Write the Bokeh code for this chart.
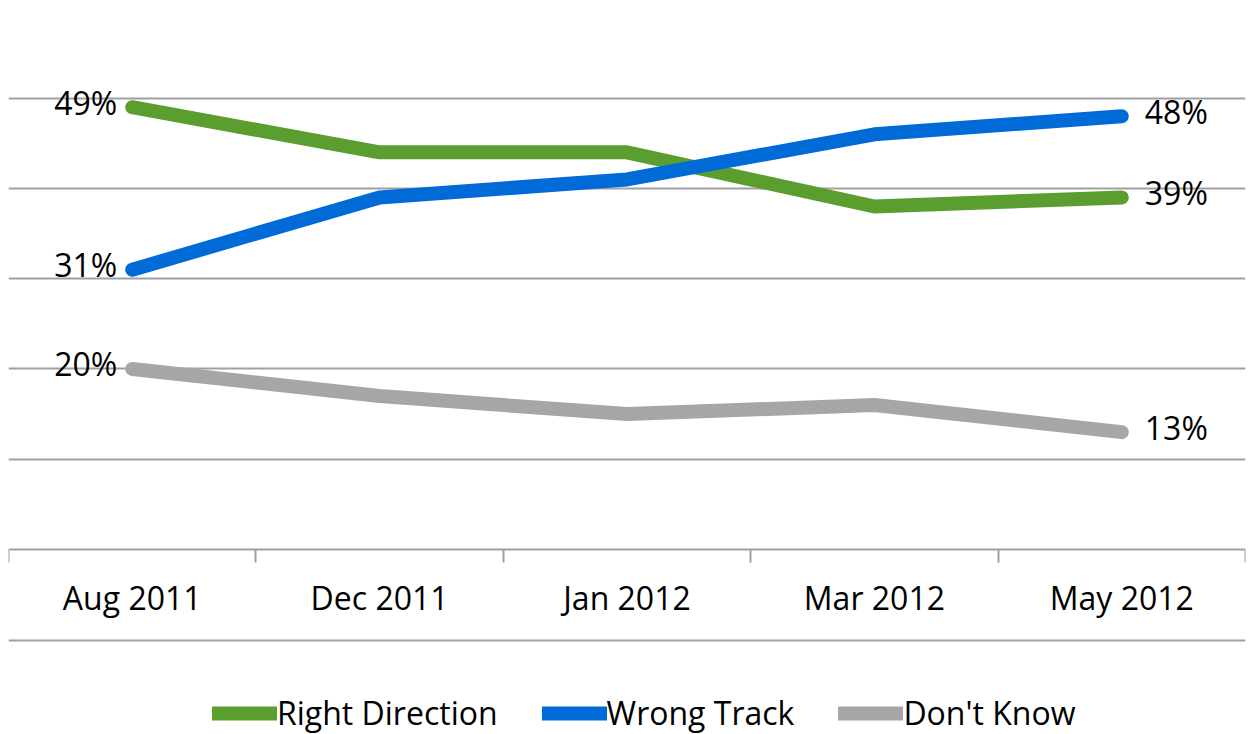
from bokeh.plotting import figure
from bokeh.models import Range1d, FixedTicker, Span, Legend, LegendItem
from bokeh.core.properties import value
from bokeh.embed import file_html
from bokeh.resources import INLINE

categories = ["Aug 2011", "Dec 2011", "Jan 2012", "Mar 2012", "May 2012"]
right_direction = [49, 44, 44, 38, 39]
wrong_track = [31, 39, 41, 46, 48]
dont_know = [20, 17, 15, 16, 13]
series_names = ["Right Direction", "Wrong Track", "Don't Know"]
series_colors = ["#5a9e2f", "#006bd6", "#a6a6a6"]
grid_ticks = [10, 20, 30, 40, 50]

FONT = "Open Sans"
GRAY = "#a0a0a0"

xs = list(range(len(categories)))
p = figure(width=1249, height=734, output_backend="svg", toolbar_location=None,
           x_range=Range1d(-0.5, len(categories) - 0.5), y_range=Range1d(-20.5, 59.94),
           min_border=0, min_border_left=8, min_border_right=4,
           min_border_top=8, min_border_bottom=0)
p.outline_line_color = None
p.background_fill_color = "white"
p.border_fill_color = "white"

p.xgrid.visible = False
p.ygrid.ticker = FixedTicker(ticks=grid_ticks)
p.ygrid.grid_line_color = GRAY
p.ygrid.grid_line_width = 2
p.yaxis.visible = False

ax = p.xaxis[0]
ax.fixed_location = 0
ax.ticker = FixedTicker(ticks=xs, minor_ticks=[i - 0.5 for i in range(len(categories) + 1)])
ax.major_label_overrides = {i: c for i, c in enumerate(categories)}
ax.axis_line_color = GRAY
ax.axis_line_width = 2
ax.major_tick_line_color = None
ax.major_tick_out = 0
ax.major_tick_in = 0
ax.minor_tick_line_color = GRAY
ax.minor_tick_line_width = 2
ax.minor_tick_out = 13
ax.minor_tick_in = 0
ax.major_label_standoff = 14
ax.major_label_text_font = FONT
ax.major_label_text_font_size = "32px"
ax.major_label_text_color = "black"

p.add_layout(Span(location=-10.08, dimension="width", line_color=GRAY, line_width=2))

items = []
for name, vals, col in zip(series_names, [right_direction, wrong_track, dont_know], series_colors):
    r = p.line(xs, vals, line_color=col, line_width=14, line_cap="round", line_join="round")
    items.append(LegendItem(label=name, renderers=[r]))

left_vals = [s[0] for s in [right_direction, wrong_track, dont_know]]
right_vals = [s[-1] for s in [right_direction, wrong_track, dont_know]]
p.text([xs[0]] * 3, left_vals, text=[f"{v}%" for v in left_vals], text_align="right",
       text_baseline="middle", x_offset=-15, y_offset=-5, text_font=value(FONT),
       text_font_size="32px", text_color="black")
p.text([xs[-1]] * 3, right_vals, text=[f"{v}%" for v in right_vals], text_align="left",
       text_baseline="middle", x_offset=23, y_offset=-5, text_font=value(FONT),
       text_font_size="32px", text_color="black")

legend = Legend(items=items, orientation="horizontal", location=(204, 0),
                label_text_font=FONT, label_text_font_size="32px", label_text_color="black",
                glyph_width=65, glyph_height=20, label_standoff=0, spacing=44,
                padding=0, margin=0, border_line_color=None, background_fill_alpha=0)
p.add_layout(legend, "center")

open("out.html", "w").write(file_html(p, INLINE))
